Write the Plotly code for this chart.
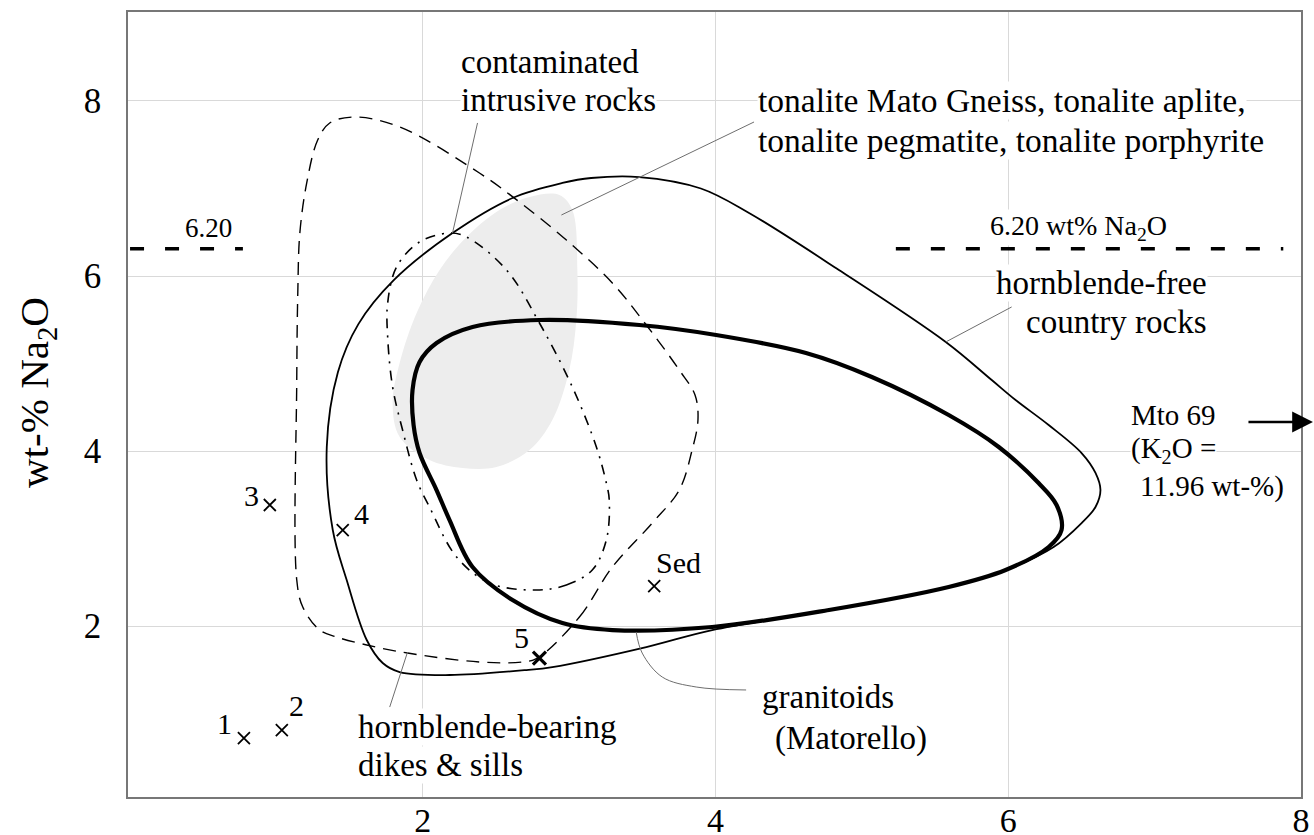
import plotly.graph_objects as go

# ---------------- data (K2O wt-% on x, Na2O wt-% on y) ----------------
granitoids_x = [6.364, 6.330, 6.207, 5.935, 5.593, 5.068, 4.618, 4.004, 3.479, 2.797, 2.340, 2.094, 1.978, 1.930,
                1.937, 1.978, 2.094, 2.183, 2.340, 2.613, 2.954, 3.295, 3.977, 4.775, 5.593, 5.982, 6.276, 6.364]
granitoids_y = [3.097, 3.383, 3.634, 4.046, 4.411, 4.846, 5.120, 5.326, 5.440, 5.497, 5.417, 5.234, 5.017, 4.697,
                4.297, 3.977, 3.554, 3.211, 2.674, 2.297, 2.034, 1.954, 1.989, 2.183, 2.446, 2.640, 2.903, 3.097]

country_x = [6.310, 6.501, 6.596, 6.630, 6.596, 6.501, 6.276, 6.050, 5.887, 5.573, 4.843, 4.229, 3.900, 3.479,
             3.150, 2.954, 2.613, 2.203, 1.800, 1.560, 1.420, 1.344, 1.385, 1.480, 1.617, 1.726, 1.842,
             2.183, 2.708, 2.885, 3.527, 3.977, 4.775, 5.593, 5.982, 6.310]
country_y = [2.903, 3.177, 3.360, 3.554, 3.749, 3.977, 4.297, 4.583, 4.811, 5.246, 6.069, 6.720, 7.000, 7.131,
             7.120, 7.063, 6.891, 6.491, 5.950, 5.450, 4.900, 4.046, 3.097, 2.526, 1.840, 1.577, 1.474,
             1.440, 1.497, 1.531, 1.760, 1.954, 2.183, 2.446, 2.640, 2.903]

dikes_x = [2.783, 3.070, 3.295, 3.568, 3.752, 3.840, 3.880, 3.860, 3.752, 3.527, 3.295, 2.981, 2.660, 2.387,
           1.842, 1.535, 1.364, 1.282, 1.207, 1.160, 1.146, 1.139, 1.139, 1.180, 1.296, 1.412, 1.617, 1.896,
           2.387, 2.681, 2.783]
dikes_y = [1.634, 2.103, 2.674, 3.177, 3.554, 4.011, 4.354, 4.640, 4.926, 5.440, 5.920, 6.411, 6.846, 7.177,
           7.703, 7.817, 7.749, 7.554, 7.063, 6.491, 5.806, 4.811, 2.526, 2.217, 1.954, 1.874, 1.783, 1.691,
           1.589, 1.589, 1.634]

contam_x = [2.776, 2.981, 3.158, 3.254, 3.274, 3.254, 3.186, 3.022, 2.797, 2.572, 2.299, 2.183, 1.978, 1.821,
            1.760, 1.760, 1.794, 1.862, 1.958, 2.046, 2.231, 2.456, 2.776]
contam_y = [2.411, 2.469, 2.640, 2.983, 3.440, 3.634, 4.046, 4.731, 5.463, 6.069, 6.446, 6.491, 6.389, 6.103,
            5.691, 5.303, 4.731, 4.240, 3.669, 3.360, 2.789, 2.491, 2.411]

tonalite_x = [2.933, 3.022, 3.056, 3.049, 3.001, 2.885, 2.729, 2.503, 2.272, 2.046, 1.842, 1.794, 1.842, 1.958,
              2.115, 2.299, 2.524, 2.729, 2.933]
tonalite_y = [6.926, 6.754, 6.069, 5.497, 4.926, 4.354, 4.011, 3.817, 3.806, 3.897, 4.160, 4.549, 5.006, 5.577,
              6.069, 6.446, 6.754, 6.903, 6.926]

samples = ["1", "2", "3", "4", "Sed"]
samples_x = [0.778, 1.037, 0.955, 1.453, 3.581]
samples_y = [0.720, 0.811, 3.383, 3.097, 2.457]
sample5_x = [2.797]
sample5_y = [1.634]

na2o_limit = 6.31
limit_left_x = [0.0, 0.771]
limit_right_x = [5.232, 7.879]

x_ticks = [2, 4, 6, 8]
y_ticks = [2, 4, 6, 8]

FONT = "Liberation Serif"
fig = go.Figure()

# tonalite field (grey)
fig.add_trace(go.Scatter(x=tonalite_x, y=tonalite_y, mode="lines", line=dict(width=0, shape="spline", smoothing=1),
                         fill="toself", fillcolor="#ededed", hoverinfo="skip", showlegend=False))
# country rocks (thin solid)
fig.add_trace(go.Scatter(x=country_x, y=country_y, mode="lines",
                         line=dict(color="black", width=1.8, shape="spline", smoothing=1), showlegend=False))
# dikes & sills (dashed)
fig.add_trace(go.Scatter(x=dikes_x, y=dikes_y, mode="lines",
                         line=dict(color="black", width=1.4, dash="13px,8px", shape="spline", smoothing=1),
                         showlegend=False))
# contaminated (dash-dot)
fig.add_trace(go.Scatter(x=contam_x, y=contam_y, mode="lines",
                         line=dict(color="black", width=1.6, dash="10px,7px,2px,7px", shape="spline", smoothing=1),
                         showlegend=False))
# granitoids (thick)
fig.add_trace(go.Scatter(x=granitoids_x, y=granitoids_y, mode="lines",
                         line=dict(color="black", width=4.2, shape="spline", smoothing=1), showlegend=False))

# 6.20 wt% lines
for xs in (limit_left_x, limit_right_x):
    fig.add_trace(go.Scatter(x=xs, y=[na2o_limit, na2o_limit], mode="lines",
                             line=dict(color="black", width=3.5, dash="14px,21px"), showlegend=False))

# leader lines
leaders = [
    ([2.374, 2.203], [7.749, 6.491]),
    ([4.263, 2.947], [7.760, 6.697]),
    ([6.023, 5.573], [5.646, 5.246]),
    ([1.774, 1.896], [1.074, 1.703]),
    ([3.458, 3.499, 3.636, 3.868, 4.209], [1.931, 1.691, 1.417, 1.303, 1.269]),
]
for lx, ly in leaders:
    fig.add_trace(go.Scatter(x=lx, y=ly, mode="lines",
                             line=dict(color="#6e6e6e", width=1, shape="spline"), showlegend=False))

# sample markers
fig.add_trace(go.Scatter(x=samples_x, y=samples_y, mode="markers",
                         marker=dict(symbol="x-thin-open", size=12, color="black", line=dict(color="black", width=1.8)),
                         showlegend=False))
fig.add_trace(go.Scatter(x=sample5_x, y=sample5_y, mode="markers",
                         marker=dict(symbol="x-thin-open", size=13, color="black", line=dict(color="black", width=3.2)),
                         showlegend=False))

def ann(text, x, y, size=33, xanchor="left", bg="white"):
    fig.add_annotation(text=text, x=x, y=y, xref="x", yref="y", showarrow=False, xanchor=xanchor,
                       yanchor="middle", font=dict(family=FONT, size=size, color="black"),
                       bgcolor=bg, borderpad=0)

ann("contaminated", 2.251, 8.446)
ann("intrusive rocks", 2.251, 8.011)
ann("tonalite Mato Gneiss, tonalite aplite,", 4.284, 8.011, size=33.5)
ann("tonalite pegmatite, tonalite porphyrite", 4.284, 7.554, size=33.5)
ann("6.20", 0.539, 6.549, size=27, xanchor="center")
ann("6.20 wt% Na<sub>2</sub>O", 6.480, 6.549, size=28, xanchor="center")
ann("hornblende-free", 7.367, 5.920, xanchor="right")
ann("country rocks", 7.367, 5.474, xanchor="right")
ann("Mto 69", 6.835, 4.411, size=29)
ann("(K<sub>2</sub>O =", 6.835, 4.011, size=29)
ann("11.96 wt-%)", 6.890, 3.589, size=29)
ann("hornblende-bearing", 1.548, 0.846)
ann("dikes &amp; sills", 1.548, 0.411)
ann("granitoids", 4.311, 1.189)
ann("(Matorello)", 4.400, 0.720)

label_pos = {"1": (0.648, 0.891), "2": (1.139, 1.097), "3": (0.832, 3.497), "4": (1.583, 3.291),
             "5": (2.674, 1.874), "Sed": (3.745, 2.731)}
for t, (lx, ly) in label_pos.items():
    ann(t, lx, ly, size=30, xanchor="center", bg="rgba(0,0,0,0)")

# arrow for Mto 69
fig.add_annotation(x=1.0102, y=0.4777, xref="paper", yref="paper", ax=-66, ay=0, axref="pixel", ayref="pixel",
                   text="", showarrow=True, arrowhead=2, arrowsize=1.6, arrowwidth=2.6, arrowcolor="black")

# y-axis title
fig.add_annotation(text="wt-% Na<sub>2</sub>O", x=-0.0776, y=0.516, xref="paper", yref="paper", showarrow=False,
                   textangle=-90, font=dict(family=FONT, size=41, color="black"), xanchor="center",
                   yanchor="middle")

axis_common = dict(showgrid=True, gridcolor="#d9d9d9", gridwidth=1, zeroline=False, showline=True,
                   linecolor="#777777", linewidth=1.5, mirror=True, ticks="")
fig.update_xaxes(range=[-0.014, 8.0], tickvals=x_ticks, ticktext=[str(v) for v in x_ticks],
                 tickfont=dict(family=FONT, size=34, color="black"), ticklabelstandoff=-8, **axis_common)
fig.update_yaxes(range=[0.046, 9.017], tickvals=y_ticks, ticktext=[str(v) for v in y_ticks],
                 tickfont=dict(family=FONT, size=35, color="black"), ticklabelstandoff=18, **axis_common)

fig.update_layout(width=1314, height=835, margin=dict(l=128, r=13, t=12, b=38, autoexpand=False),
                  plot_bgcolor="white", paper_bgcolor="white", showlegend=False)

fig.write_html("out.html", config={"displayModeBar": False},
               post_script="document.body.style.margin='0';document.body.style.overflow='hidden';")
